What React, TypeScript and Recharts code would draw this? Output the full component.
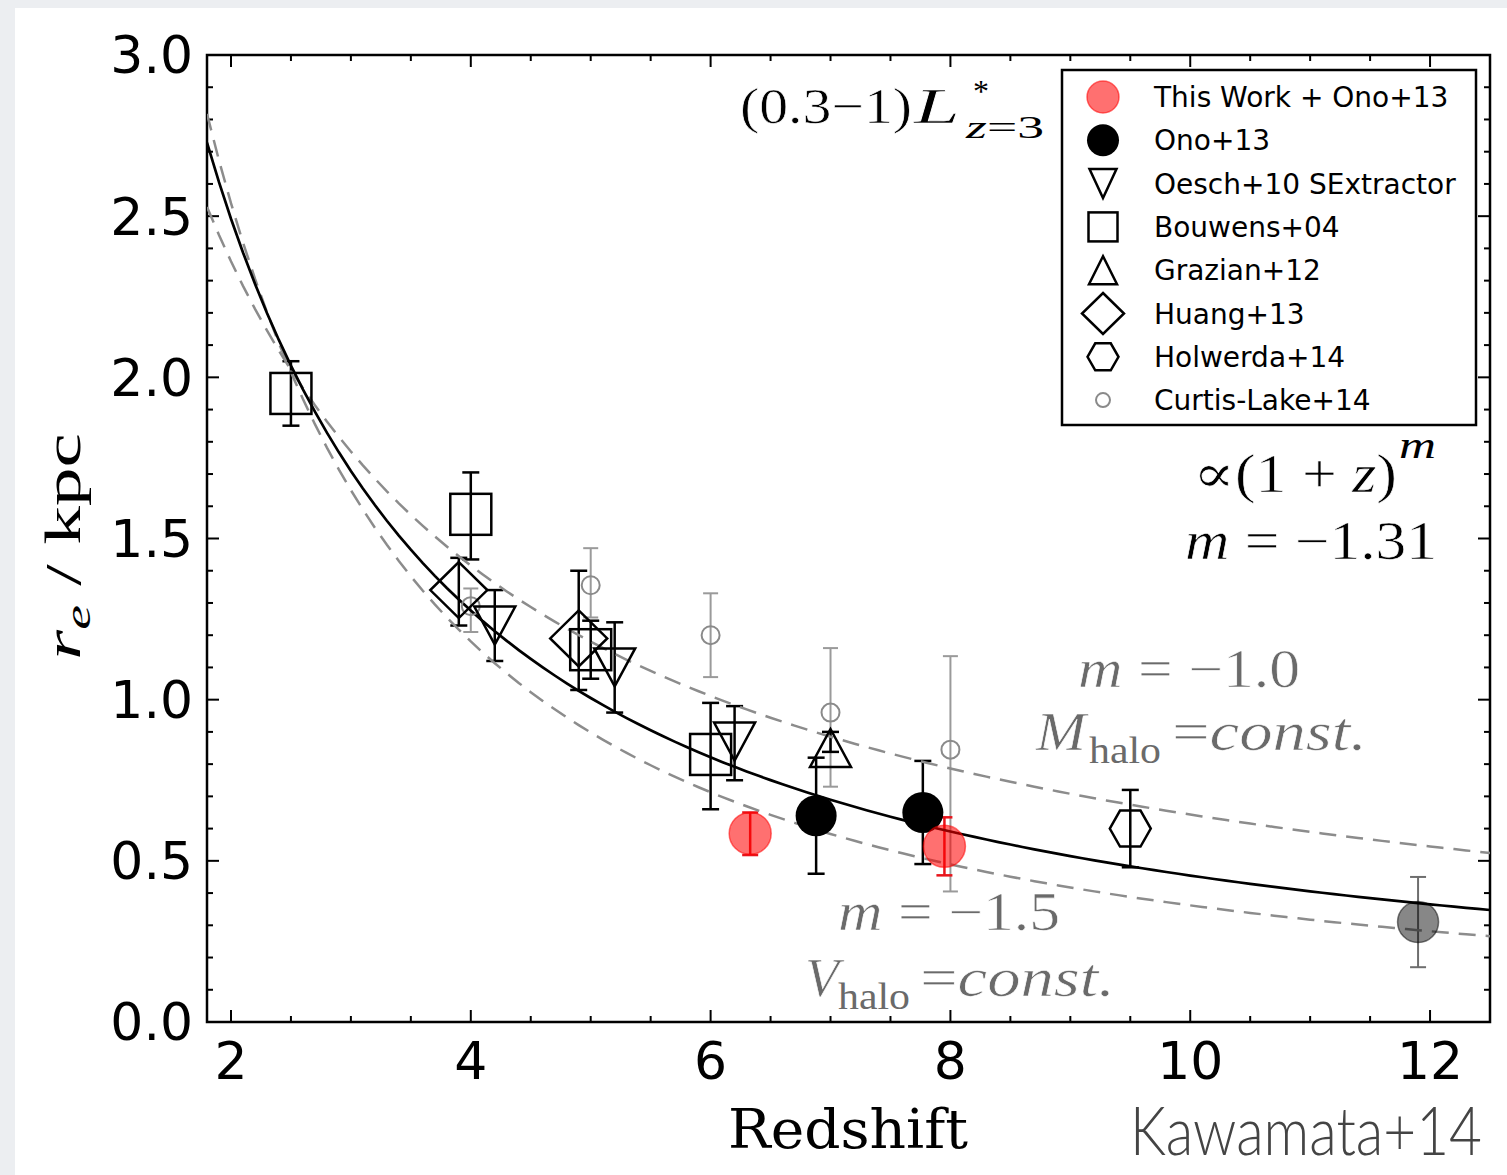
import React from 'react';
import {
  ScatterChart, Scatter, XAxis, YAxis, ErrorBar, ReferenceLine, ReferenceArea,
} from 'recharts';

// ---------------- data ----------------
const thisWorkZ = [6.33, 7.95];
const thisWorkR = [0.585, 0.545];
const thisWorkLo = [0.067, 0.09];
const thisWorkHi = [0.065, 0.09];

const highZZ = [11.9];
const highZR = [0.31];
const highZLo = [0.14];
const highZHi = [0.14];

const onoZ = [6.88, 7.77];
const onoR = [0.64, 0.65];
const onoLo = [0.18, 0.16];
const onoHi = [0.18, 0.16];

const oeschZ = [4.2, 5.2, 6.2];
const oeschR = [1.23, 1.1, 0.87];
const oeschLo = [0.11, 0.14, 0.12];
const oeschHi = [0.11, 0.14, 0.11];

const bouwensZ = [2.5, 4.0, 5.0, 6.0];
const bouwensR = [1.95, 1.575, 1.155, 0.83];
const bouwensLo = [0.1, 0.14, 0.09, 0.17];
const bouwensHi = [0.1, 0.13, 0.09, 0.16];

const grazianZ = [7.0];
const grazianR = [0.85];
const grazianLo = [0.012];
const grazianHi = [0.05];

const huangZ = [3.9, 4.9];
const huangR = [1.34, 1.19];
const huangLo = [0.11, 0.16];
const huangHi = [0.1, 0.21];

const holwerdaZ = [9.5];
const holwerdaR = [0.6];
const holwerdaLo = [0.12];
const holwerdaHi = [0.12];

const curtisZ = [4.0, 5.0, 6.0, 7.0, 8.0];
const curtisR = [1.29, 1.355, 1.2, 0.96, 0.845];
const curtisLo = [0.08, 0.1, 0.13, 0.23, 0.44];
const curtisHi = [0.055, 0.115, 0.13, 0.2, 0.29];

// power-law fits r = A (1+z)^m
const fitBest = { A: 10.51, m: -1.31 };
const fitMhalo = { A: 7.08, m: -1.0 };
const fitVhalo = { A: 13.2, m: -1.5 };
const fitGridStart = 1.8;
const fitGridStep = 0.1;
const fitGridCount = 108;

const xDomain = [1.8, 12.5];
const yDomain = [0, 3];
const xMajorTicks = [2, 4, 6, 8, 10, 12];
const xMinorTicks = [2.5, 3, 3.5, 4.5, 5, 5.5, 6.5, 7, 7.5, 8.5, 9, 9.5, 10.5, 11, 11.5];
const yMajorTicks = [0, 0.5, 1.0, 1.5, 2.0, 2.5, 3.0];
const yMinorTicks = [0.1, 0.2, 0.3, 0.4, 0.6, 0.7, 0.8, 0.9, 1.1, 1.2, 1.3, 1.4, 1.6, 1.7, 1.8, 1.9, 2.1, 2.2, 2.3, 2.4, 2.6, 2.7, 2.8, 2.9];

const legendLabels = [
  'This Work + Ono+13',
  'Ono+13',
  'Oesch+10 SExtractor',
  'Bouwens+04',
  'Grazian+12',
  'Huang+13',
  'Holwerda+14',
  'Curtis-Lake+14',
];

// ---------------- helpers ----------------
const build = (z: number[], r: number[], lo: number[], hi: number[]) =>
  z.map((v, i) => ({ x: v, y: r[i], err: [lo[i], hi[i]] }));

const fitGrid = Array.from({ length: fitGridCount }, (_, i) => +(fitGridStart + i * fitGridStep).toFixed(2));
const buildFit = (f: { A: number; m: number }) =>
  fitGrid.map((z) => ({ x: z, y: f.A * Math.pow(1 + z, f.m) }));

const thisWorkData = build(thisWorkZ, thisWorkR, thisWorkLo, thisWorkHi);
const highZData = build(highZZ, highZR, highZLo, highZHi);
const onoData = build(onoZ, onoR, onoLo, onoHi);
const oeschData = build(oeschZ, oeschR, oeschLo, oeschHi);
const bouwensData = build(bouwensZ, bouwensR, bouwensLo, bouwensHi);
const grazianData = build(grazianZ, grazianR, grazianLo, grazianHi);
const huangData = build(huangZ, huangR, huangLo, huangHi);
const holwerdaData = build(holwerdaZ, holwerdaR, holwerdaLo, holwerdaHi);
const curtisData = build(curtisZ, curtisR, curtisLo, curtisHi);

// ---------------- marker shapes ----------------
const SW = 2.5;
const RedDot = (cx: number, cy: number, r: number) => (
  <circle cx={cx} cy={cy} r={r} fill="#ff0000" fillOpacity={0.56} stroke="#ff0000" strokeOpacity={0.55} strokeWidth={1.5} />
);
const BlackDot = (cx: number, cy: number, r: number) => <circle cx={cx} cy={cy} r={r} fill="#000" />;
const GrayDot = (cx: number, cy: number, r: number) => (
  <circle cx={cx} cy={cy} r={r} fill="#000" fillOpacity={0.47} stroke="#000" strokeOpacity={0.5} strokeWidth={1.5} />
);
const TriDown = (cx: number, cy: number, w: number, h: number) => (
  <polygon points={`${cx - w / 2},${cy - h / 2} ${cx + w / 2},${cy - h / 2} ${cx},${cy + h / 2}`} fill="none" stroke="#000" strokeWidth={SW} />
);
const TriUp = (cx: number, cy: number, w: number, h: number) => (
  <polygon points={`${cx},${cy - h / 2} ${cx - w / 2},${cy + h / 2} ${cx + w / 2},${cy + h / 2}`} fill="none" stroke="#000" strokeWidth={SW} />
);
const Square = (cx: number, cy: number, w: number, h: number) => (
  <rect x={cx - w / 2} y={cy - h / 2} width={w} height={h} fill="none" stroke="#000" strokeWidth={SW} />
);
const Diamond = (cx: number, cy: number, w: number, h: number) => (
  <polygon points={`${cx},${cy - h / 2} ${cx + w / 2},${cy} ${cx},${cy + h / 2} ${cx - w / 2},${cy}`} fill="none" stroke="#000" strokeWidth={SW} />
);
const Hexagon = (cx: number, cy: number, w: number, h: number) => (
  <polygon
    points={`${cx - w / 2},${cy} ${cx - w / 4},${cy - h / 2} ${cx + w / 4},${cy - h / 2} ${cx + w / 2},${cy} ${cx + w / 4},${cy + h / 2} ${cx - w / 4},${cy + h / 2}`}
    fill="none" stroke="#000" strokeWidth={SW}
  />
);
const SmallCircle = (cx: number, cy: number, r: number) => (
  <circle cx={cx} cy={cy} r={r} fill="none" stroke="#8a8a8a" strokeWidth={2} />
);

const legendMarkers = [
  (cx: number, cy: number) => RedDot(cx, cy, 16),
  (cx: number, cy: number) => BlackDot(cx, cy, 16),
  (cx: number, cy: number) => TriDown(cx, cy, 27, 29),
  (cx: number, cy: number) => Square(cx, cy, 29, 29),
  (cx: number, cy: number) => TriUp(cx, cy, 28, 28),
  (cx: number, cy: number) => Diamond(cx, cy, 42, 41),
  (cx: number, cy: number) => Hexagon(cx, cy, 31, 27),
  (cx: number, cy: number) => SmallCircle(cx, cy, 7),
];

const noShape = () => <g />;

// tick lengths in data units (px / px-per-unit)
const xMajLen = 12 / 119.9;
const xMinLen = 6 / 119.9;
const yMajLen = 12 / 322.3;
const yMinLen = 6 / 322.3;

const serif = 'Liberation Serif, DejaVu Serif, serif';
const gray = '#6a6a6a';
const SG = 'spacingAndGlyphs';
const thin = { stroke: '#fff', strokeWidth: 0.6 };
const sp = '\u2005';

export default function App() {
  const tickLines: React.ReactNode[] = [];
  const addTick = (key: string, x1: number, y1: number, x2: number, y2: number) =>
    tickLines.push(
      <ReferenceLine key={key} segment={[{ x: x1, y: y1 }, { x: x2, y: y2 }]} stroke="#000" strokeWidth={2} ifOverflow="visible" />
    );
  xMajorTicks.forEach((t) => {
    addTick(`xb${t}`, t, 0, t, yMajLen);
    addTick(`xt${t}`, t, 3, t, 3 - yMajLen);
  });
  xMinorTicks.forEach((t) => {
    addTick(`xbm${t}`, t, 0, t, yMinLen);
    addTick(`xtm${t}`, t, 3, t, 3 - yMinLen);
  });
  yMajorTicks.forEach((t) => {
    addTick(`yl${t}`, 1.8, t, 1.8 + xMajLen, t);
    addTick(`yr${t}`, 12.5, t, 12.5 - xMajLen, t);
  });
  yMinorTicks.forEach((t) => {
    addTick(`ylm${t}`, 1.8, t, 1.8 + xMinLen, t);
    addTick(`yrm${t}`, 12.5, t, 12.5 - xMinLen, t);
  });

  const tickFont = { fontSize: 52, fontFamily: 'DejaVu Sans', fill: '#000' };

  return (
    <div style={{ position: 'absolute', left: 0, top: 0, width: 1507, height: 1175, background: '#eceef1', overflow: 'hidden' }}>
      <div style={{ position: 'absolute', left: 15, top: 8, width: 1492, height: 1167, background: '#fff' }} />
      <div style={{ position: 'absolute', left: 0, top: 0 }}>
        <ScatterChart width={1507} height={1175} margin={{ top: 55, right: 17, left: 0, bottom: 0 }}>
          <XAxis
            type="number" dataKey="x" domain={xDomain} ticks={xMajorTicks} interval={0}
            allowDataOverflow tickLine={false} axisLine={false} height={153}
            tick={tickFont} tickMargin={14}
          />
          <YAxis
            type="number" dataKey="y" domain={yDomain} ticks={yMajorTicks} interval={0}
            allowDataOverflow tickLine={false} axisLine={false} width={207}
            tick={tickFont} tickMargin={8} tickFormatter={(v: number) => v.toFixed(1)}
          />
          {tickLines}
          <Scatter data={buildFit(fitMhalo)} line={{ stroke: '#8c8c8c', strokeWidth: 2.5, strokeDasharray: '17 10' }} shape={noShape} isAnimationActive={false} />
          <Scatter data={buildFit(fitVhalo)} line={{ stroke: '#8c8c8c', strokeWidth: 2.5, strokeDasharray: '17 10' }} shape={noShape} isAnimationActive={false} />
          <Scatter data={buildFit(fitBest)} line={{ stroke: '#000', strokeWidth: 2.7 }} shape={noShape} isAnimationActive={false} />

          <Scatter data={curtisData} isAnimationActive={false} shape={(p: any) => SmallCircle(p.cx, p.cy, 9)}>
            <ErrorBar dataKey="err" direction="y" width={7.5} stroke="#9a9a9a" strokeWidth={2} isAnimationActive={false} />
          </Scatter>
          <Scatter data={bouwensData} isAnimationActive={false} shape={(p: any) => Square(p.cx, p.cy, 41, 41)}>
            <ErrorBar dataKey="err" direction="y" width={8.5} stroke="#000" strokeWidth={2.5} isAnimationActive={false} />
          </Scatter>
          <Scatter data={oeschData} isAnimationActive={false} shape={(p: any) => TriDown(p.cx, p.cy, 41, 38)}>
            <ErrorBar dataKey="err" direction="y" width={8.5} stroke="#000" strokeWidth={2.5} isAnimationActive={false} />
          </Scatter>
          <Scatter data={grazianData} isAnimationActive={false} shape={(p: any) => TriUp(p.cx, p.cy, 41, 38)}>
            <ErrorBar dataKey="err" direction="y" width={8.5} stroke="#000" strokeWidth={2.5} isAnimationActive={false} />
          </Scatter>
          <Scatter data={huangData} isAnimationActive={false} shape={(p: any) => Diamond(p.cx, p.cy, 57, 56)}>
            <ErrorBar dataKey="err" direction="y" width={8.5} stroke="#000" strokeWidth={2.5} isAnimationActive={false} />
          </Scatter>
          <Scatter data={holwerdaData} isAnimationActive={false} shape={(p: any) => Hexagon(p.cx, p.cy, 41, 36)}>
            <ErrorBar dataKey="err" direction="y" width={8.5} stroke="#000" strokeWidth={2.5} isAnimationActive={false} />
          </Scatter>
          <Scatter data={highZData} isAnimationActive={false} shape={(p: any) => GrayDot(p.cx, p.cy, 20.5)}>
            <ErrorBar dataKey="err" direction="y" width={8} stroke="#6e6e6e" strokeWidth={2} isAnimationActive={false} />
          </Scatter>
          <Scatter data={onoData} isAnimationActive={false} shape={(p: any) => BlackDot(p.cx, p.cy, 20.5)}>
            <ErrorBar dataKey="err" direction="y" width={8.5} stroke="#000" strokeWidth={2.5} isAnimationActive={false} />
          </Scatter>
          <Scatter data={thisWorkData} isAnimationActive={false} shape={(p: any) => RedDot(p.cx, p.cy, 21)}>
            <ErrorBar dataKey="err" direction="y" width={8} stroke="#e8141b" strokeWidth={2.5} isAnimationActive={false} />
          </Scatter>

          <ReferenceArea x1={1.8} x2={12.5} y1={0} y2={3} fill="none" fillOpacity={0} stroke="#000" strokeWidth={2.5} ifOverflow="visible" />
        </ScatterChart>
      </div>

      <svg width={1507} height={1175} style={{ position: 'absolute', left: 0, top: 0, pointerEvents: 'none' }}>
        {/* legend */}
        <rect x={1062} y={70} width={414} height={355} fill="#fff" stroke="#000" strokeWidth={2.5} />
        {legendLabels.map((lab, i) => {
          const cy = 97 + i * 43.3;
          return (
            <g key={lab}>
              {legendMarkers[i](1103, cy)}
              <text x={1154} y={cy + 10} fontFamily="DejaVu Sans" fontSize={28} fill="#000">{lab}</text>
            </g>
          );
        })}

        {/* (0.3-1) L*_{z=3} */}
        <text x={740} y={123} fontFamily={serif} fontSize={50} fill="#000" textLength={172} lengthAdjust={SG} {...thin}>(0.3−1)</text>
        <text x={914} y={123} fontFamily={serif} fontSize={50} fontStyle="italic" fill="#000" textLength={46} lengthAdjust={SG} {...thin}>L</text>
        <text x={973} y={102} fontFamily={serif} fontSize={32} fill="#000">*</text>
        <text x={966} y={138} fontFamily={serif} fontSize={31} fill="#000" textLength={78} lengthAdjust={SG}>
          <tspan fontStyle="italic">z</tspan>=3
        </text>

        {/* ∝ (1+z)^m, m = -1.31 */}
        <text x={1193} y={492} fontFamily={serif} fontSize={54} fill="#000" textLength={204} lengthAdjust={SG} {...thin}>
          ∝(1{sp}+{sp}<tspan fontStyle="italic">z</tspan>)
        </text>
        <text x={1399} y={458} fontFamily={serif} fontSize={38} fontStyle="italic" fill="#000" textLength={37} lengthAdjust={SG}>m</text>
        <text x={1185} y={559} fontFamily={serif} fontSize={54} fill="#000" textLength={252} lengthAdjust={SG} {...thin}>
          <tspan fontStyle="italic">m</tspan>{sp}={sp}−1.31
        </text>

        {/* gray annotations */}
        <text x={1078} y={687} fontFamily={serif} fontSize={54} fill={gray} textLength={222} lengthAdjust={SG} {...thin}>
          <tspan fontStyle="italic">m</tspan>{sp}={sp}−1.0
        </text>
        <text x={1036} y={750} fontFamily={serif} fontSize={54} fontStyle="italic" fill={gray} textLength={50} lengthAdjust={SG} {...thin}>M</text>
        <text x={1089} y={763} fontFamily={serif} fontSize={37} fill={gray} textLength={72} lengthAdjust={SG}>halo</text>
        <text x={1172} y={750} fontFamily={serif} fontSize={54} fill={gray} textLength={195} lengthAdjust={SG} {...thin}>
          =<tspan fontStyle="italic">const.</tspan>
        </text>

        <text x={838} y={930} fontFamily={serif} fontSize={54} fill={gray} textLength={222} lengthAdjust={SG} {...thin}>
          <tspan fontStyle="italic">m</tspan>{sp}={sp}−1.5
        </text>
        <text x={805} y={996} fontFamily={serif} fontSize={54} fontStyle="italic" fill={gray} textLength={34} lengthAdjust={SG} {...thin}>V</text>
        <text x={838} y={1009} fontFamily={serif} fontSize={37} fill={gray} textLength={72} lengthAdjust={SG}>halo</text>
        <text x={920} y={996} fontFamily={serif} fontSize={54} fill={gray} textLength={195} lengthAdjust={SG} {...thin}>
          =<tspan fontStyle="italic">const.</tspan>
        </text>

        {/* axis labels */}
        <text x={728} y={1148} fontFamily="DejaVu Serif" fontSize={54} fill="#000" textLength={240} lengthAdjust={SG}>Redshift</text>
        <g transform="translate(80, 660) rotate(-90)">
          <text x={0} y={0} fontFamily={serif} fontSize={50} fill="#000" textLength={227} lengthAdjust={SG}>
            <tspan fontStyle="italic">r</tspan>
            <tspan fontStyle="italic" fontSize={36} dy={10}>e</tspan>
            <tspan dy={-10}> / kpc</tspan>
          </text>
        </g>

        {/* credit */}
        <g transform="translate(1130, 1155) scale(1, 1.2)">
          <text x={0} y={0} fontFamily="Lato, Open Sans, sans-serif" fontWeight={300} fontSize={56} fill="#444" textLength={352} lengthAdjust={SG}>Kawamata+14</text>
        </g>
      </svg>
    </div>
  );
}
